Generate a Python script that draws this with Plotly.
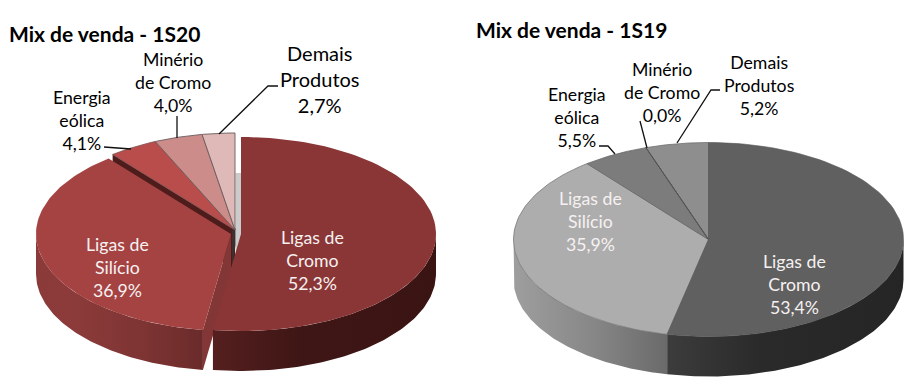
import numpy as np
import plotly.graph_objects as go

# ---- data ----
categories = ["Ligas de Cromo", "Ligas de Silício", "Energia eólica", "Minério de Cromo", "Demais Produtos"]
values_1s20 = [52.3, 36.9, 4.1, 4.0, 2.7]
values_1s19 = [53.4, 35.9, 5.5, 0.0, 5.2]
labels_1s20 = ["Ligas de<br>Cromo<br>52,3%", "Ligas de<br>Silício<br>36,9%", "Energia<br>eólica<br>4,1%",
               "Minério<br>de Cromo<br>4,0%", "Demais<br>Produtos<br>2,7%"]
labels_1s19 = ["Ligas de<br>Cromo<br>53,4%", "Ligas de<br>Silício<br>35,9%", "Energia<br>eólica<br>5,5%",
               "Minério<br>de Cromo<br>0,0%", "Demais<br>Produtos<br>5,2%"]
title_1s20 = "Mix de venda - 1S20"
title_1s19 = "Mix de venda - 1S19"

FONT = "Lato"
RX, RY, DEPTH = 195.0, 97.0, 40.0
fig = go.Figure()


def pt(c, th, r=1.0):
    t = np.radians(th)
    return c[0] + r * RX * np.sin(t), c[1] - r * RY * np.cos(t)


def arc(c, a, b, n=90):
    th = np.linspace(a, b, n)
    return pt(c, th)


def poly(xs, ys, color=None, grad=None, line=None, lw=0):
    kw = dict(fillcolor=color) if grad is None else dict(
        fillgradient=dict(type="horizontal", colorscale=grad))
    fig.add_trace(go.Scatter(
        x=list(xs), y=list(ys), mode="lines", fill="toself",
        line=dict(color=line or "rgba(0,0,0,0)", width=lw),
        hoverinfo="skip", showlegend=False, **kw))


def top(c, a, b, color, line=None, lw=0):
    x, y = arc(c, a, b)
    poly(np.r_[c[0], x, c[0]], np.r_[c[1], y, c[1]], color, line=line, lw=lw)


def side(c, a, b, grad):
    x, y = arc(c, a, b)
    poly(np.r_[x, x[::-1], x[0]], np.r_[y, (y + DEPTH)[::-1], y[0]], grad=grad)


def spans(values):
    e = np.cumsum(values) * 3.6
    return np.r_[0, e[:-1]], e


def leader(xs, ys):
    fig.add_trace(go.Scatter(x=xs, y=ys, mode="lines", line=dict(color="#111111", width=1.3),
                             hoverinfo="skip", showlegend=False))


# ---- left pie, 1S20 (two slices pulled out of the pie) ----
s, e = spans(values_1s20)
c_cromo, c_sil, c_small = (241.0, 234.0), (231.0, 234.0), (235.0, 230.0)

# gap shading behind the small slices
poly([c_small[0] + 0.5, c_cromo[0], c_cromo[0], c_small[0] + 0.5],
     [c_small[1] - 57, c_small[1] - 57, c_small[1] + 28, c_small[1] + 28], "#cbcbcb")
# wall of wind slice seen above the silicon slice
ex, ey = pt(c_small, s[2])
poly([c_small[0], ex, ex, c_small[0]], [c_small[1], ey, ey + DEPTH, c_small[1] + DEPTH], "#4d1c1b")
poly([c_small[0] - 3, c_small[0] + 0.5, c_small[0] + 0.5, c_small[0] - 3],
     [c_small[1], c_small[1] - 2, c_small[1] + 15, c_small[1] + DEPTH], "#3d3030")
top(c_small, s[2], e[2], "#B94D4B", "#7a4a4a", 0.8)
top(c_small, s[3], e[3], "#CB8C8A", "#6b5a5a", 0.9)
top(c_small, s[4], e[4], "#DFB9B8", "#6b5a5a", 0.9)

side(c_sil, s[1], 270, [[0, "#8a3a39"], [0.2, "#8c3b3a"], [0.65, "#7d3433"], [1, "#6a2b2a"]])
ex, ey = pt(c_sil, s[1])
poly([c_sil[0], ex, ex, c_sil[0]], [c_sil[1], ey, ey + DEPTH, c_sil[1] + DEPTH], "#823635")
top(c_sil, s[1], e[1], "#A54343")

side(c_cromo, 90, e[0], [[0, "#551f1f"], [0.4, "#3e1615"], [1, "#3a1413"]])
top(c_cromo, s[0], e[0], "#8B3636")

# ---- right pie, 1S19 ----
s, e = spans(values_1s19)
c = (708.5, 239.5)
side(c, s[1], 270, [[0, "#9e9e9e"], [0.5, "#888888"], [1, "#6a6a6a"]])
side(c, 90, e[0], [[0, "#3c3c3c"], [0.4, "#2a2a2a"], [1, "#252525"]])
top(c, s[1], e[1], "#ADADAD", "#777777", 0.8)
top(c, s[2], e[2], "#7C7C7C", "#666666", 0.8)
top(c, s[4], e[4], "#8E8E8E", "#707070", 0.8)
top(c, s[3], e[3], "#7C7C7C", "#555555", 1.0)
top(c, s[0], e[0], "#606060", "#555555", 0.6)

# ---- leader lines ----
leader([104, 131], [147, 149])
leader([177, 177], [116, 138])
leader([278, 268, 219], [86, 86, 134])
leader([599, 608, 615], [146, 146, 154])
leader([640, 647], [121, 148])
leader([720, 711, 677], [90, 90, 143])

# ---- text ----
ann = []


def text(x, y, t, color="#000000", size=17.7, anchor="center", bold=False):
    ann.append(dict(x=x, y=y, xref="x", yref="y", text=f"<b>{t}</b>" if bold else t, showarrow=False,
                    xanchor=anchor, yanchor="middle", align="center",
                    font=dict(family=FONT, size=size, color=color)))


W = "#f6f1f1"
text(312, 260, labels_1s20[0], W)
text(117, 267, labels_1s20[1], W)
text(82, 120, labels_1s20[2])
text(173, 82, labels_1s20[3])
text(320, 79, labels_1s20[4], size=20)
text(794, 284, labels_1s19[0], W)
text(590, 221, labels_1s19[1], W)
text(577, 117, labels_1s19[2])
text(662, 92, labels_1s19[3])
text(759, 85, labels_1s19[4])
text(7, 33, title_1s20, "#000000", 21, "left", True)
text(474, 29, title_1s19, "#000000", 21, "left", True)

fig.update_layout(
    width=912, height=389, margin=dict(l=0, r=0, t=0, b=0),
    paper_bgcolor="white", plot_bgcolor="white", showlegend=False, annotations=ann,
    xaxis=dict(range=[0, 912], visible=False, fixedrange=True),
    yaxis=dict(range=[389, 0], visible=False, fixedrange=True),
)
fig.write_html("out.html", config=dict(displayModeBar=False),
               post_script="document.body.style.margin='0';document.body.style.overflow='hidden';")
